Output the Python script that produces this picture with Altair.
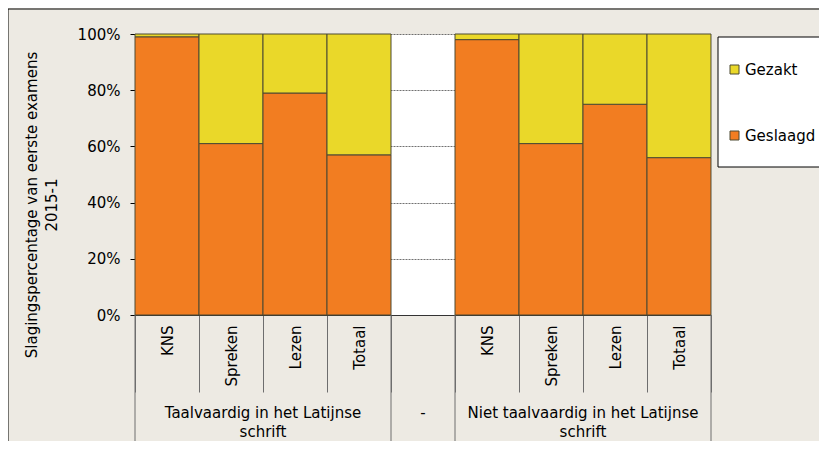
import altair as alt
import pandas as pd

# ---- data ----
keys = ["T|KNS", "T|Spreken", "T|Lezen", "T|Totaal", "-|",
        "N|KNS", "N|Spreken", "N|Lezen", "N|Totaal"]
geslaagd = [99, 61, 79, 57, None, 98, 61, 75, 56]
series = ["Gezakt", "Geslaagd"]
colors = ["#EAD829", "#F27D21"]
group_labels = ["Taalvaardig in het Latijnse\nschrift", "Niet taalvaardig in het Latijnse\nschrift"]
group_centers = ["T|Spreken", "N|Spreken"]
y_title = "Slagingspercentage van eerste examens\n2015-1"
y_ticks = [0, 20, 40, 60, 80, 100]

rows = []
for k, v in zip(keys, geslaagd):
    if v is None:
        continue
    rows.append({"key": k, "serie": "Geslaagd", "value": v, "ord": 0})
    rows.append({"key": k, "serie": "Gezakt", "value": 100 - v, "ord": 1})
df = pd.DataFrame(rows)

FONT = "DejaVu Sans"
W, H = 576, 281
STROKE = "#4d4a33"
SEP = "#6e6e6e"


def xenc(bp=None):
    kw = dict(
        scale=alt.Scale(domain=keys, paddingInner=0, paddingOuter=0),
        axis=alt.Axis(
            title=None, labelAngle=-90, labelAlign="right", labelBaseline="middle",
            labelExpr="split(datum.value, '|')[1]", labelPadding=-67,
            tickBand="extent", tickSize=77, tickColor=SEP, tickWidth=1,
            domainColor="#333333", labelFont=FONT, labelFontSize=15,
            labelColor="black",
        ),
    )
    if bp is not None:
        kw["bandPosition"] = bp
    return alt.X("key:N", **kw)


bars = alt.Chart(df).mark_bar(stroke=STROKE, strokeWidth=1).encode(
    x=xenc(),
    y=alt.Y("value:Q", stack="zero",
            scale=alt.Scale(domain=[0, 100], nice=False),
            axis=alt.Axis(title=None, values=y_ticks, labelExpr="datum.value + '%'",
                          tickSize=5, tickColor="black", domainColor="black",
                          labelPadding=10, labelFont=FONT, labelFontSize=15,
                          labelColor="black", gridColor="#333333",
                          gridDash=[2, 1], gridWidth=0.7)),
    color=alt.Color("serie:N", scale=alt.Scale(domain=series, range=colors),
                    legend=alt.Legend(orient="none", legendX=592, legendY=28,
                                      title=None, padding=0, rowPadding=50,
                                      symbolType="square", symbolSize=81,
                                      symbolStrokeColor=STROKE, symbolStrokeWidth=1,
                                      labelFont=FONT, labelFontSize=15,
                                      labelColor="black", labelOffset=3)),
    order=alt.Order("ord:Q"),
)

sep_left = alt.Chart(pd.DataFrame({"key": ["T|KNS", "-|", "N|KNS"]})).mark_rule(
    color=SEP, strokeWidth=1).encode(x=xenc(0), y=alt.value(H), y2=alt.value(H + 130))
sep_right = alt.Chart(pd.DataFrame({"key": ["N|Totaal"]})).mark_rule(
    color=SEP, strokeWidth=1).encode(x=xenc(1), y=alt.value(H), y2=alt.value(H + 130))

glab = alt.Chart(pd.DataFrame({"key": group_centers, "label": group_labels})).mark_text(
    font=FONT, fontSize=15, lineBreak="\n", lineHeight=19, baseline="middle",
    align="center", color="black").encode(x=xenc(1), y=alt.value(H + 98), text="label:N")
dash = alt.Chart(pd.DataFrame({"key": ["-|"], "label": ["-"]})).mark_text(
    font=FONT, fontSize=15, baseline="middle", align="center", color="black").encode(
    x=xenc(0.5), y=alt.value(H + 98), text="label:N")

ytitle = alt.Chart(pd.DataFrame({"t": [y_title]})).mark_text(
    font=FONT, fontSize=15, lineBreak="\n", lineHeight=20, angle=270,
    baseline="middle", align="center", color="black").encode(
    x=alt.value(-103), y=alt.value(171), text="t:N")

legend_box = alt.Chart(pd.DataFrame({"a": [0]})).mark_rect(
    fill="white", stroke="black", strokeWidth=1).encode(
    x=alt.value(583), x2=alt.value(720), y=alt.value(3), y2=alt.value(133))

frame_top = alt.Chart(pd.DataFrame({"a": [0]})).mark_rule(color="black", strokeWidth=1).encode(
    x=alt.value(-127), x2=alt.value(720), y=alt.value(-25))
frame_left = alt.Chart(pd.DataFrame({"a": [0]})).mark_rule(color="black", strokeWidth=1).encode(
    x=alt.value(-127), y=alt.value(-25), y2=alt.value(430))

chart = alt.layer(
    bars, sep_left, sep_right, glab, dash, ytitle, legend_box, frame_top, frame_left
).properties(
    width=W, height=H,
    autosize=alt.AutoSizeParams(type="none"),
    padding={"left": 127, "top": 26, "right": 108, "bottom": 126},
).configure(background="#EDEAE3").configure_view(fill="white", stroke="transparent")

chart.save("out.html", embed_options={"renderer": "svg", "actions": False})
